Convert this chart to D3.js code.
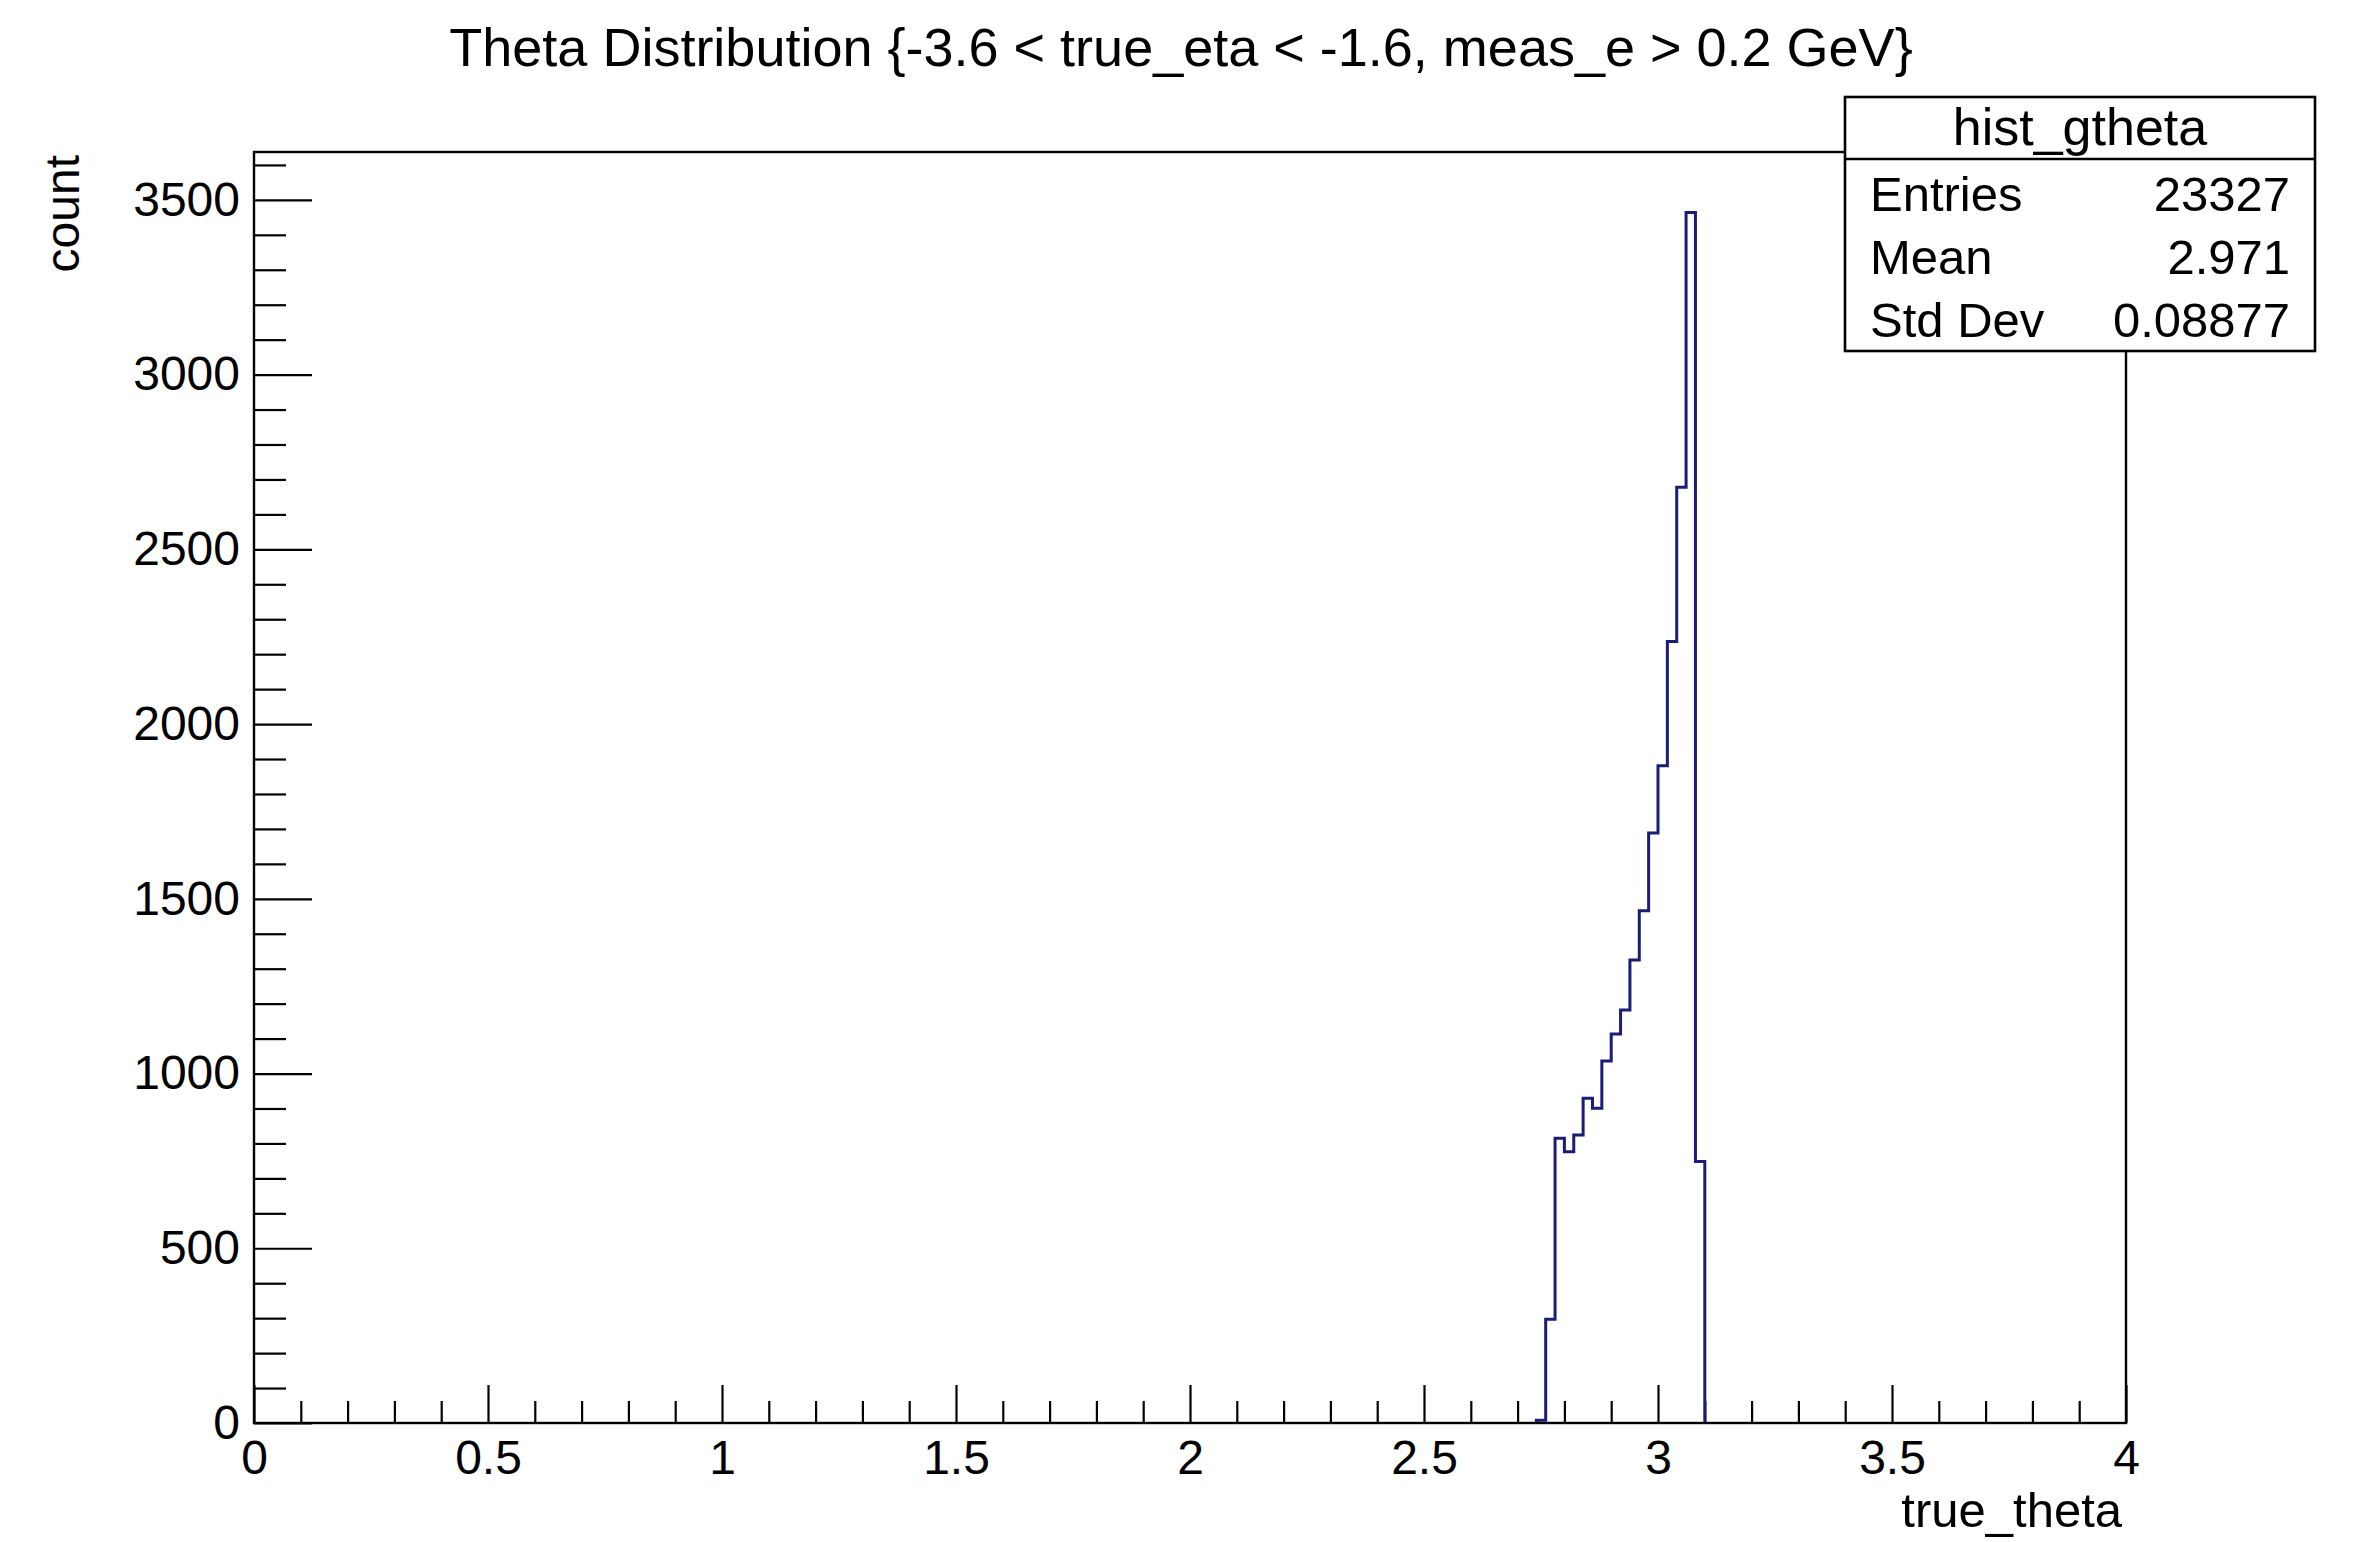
<!DOCTYPE html>
<html>
<head>
<meta charset="utf-8">
<script src="https://cdn.jsdelivr.net/npm/d3@7"></script>
<style>
    body { margin: 0; background: #fff; }
    svg { display: block; font-family: "Liberation Sans", Arial, sans-serif; }
    .tick text { font-size: 48px; fill: #000; }
    .tick line { stroke: #000; stroke-width: 2.2; }
</style>
</head>
<body>
<svg id="gfx" width="2361" height="1542"></svg>
<script>
// histogram bins (lower edge, width 0.02) and counts
var binLow = [2.74, 2.76, 2.78, 2.80, 2.82, 2.84, 2.86, 2.88, 2.90, 2.92,
              2.94, 2.96, 2.98, 3.00, 3.02, 3.04, 3.06, 3.08];
var counts = [8, 297, 815, 776, 824, 929, 901, 1036, 1113, 1182,
              1325, 1466, 1688, 1881, 2236, 2678, 3464, 748];
var binWidth = 0.02;

var xMajor = [0, 0.5, 1, 1.5, 2, 2.5, 3, 3.5, 4];
var yMajor = [0, 500, 1000, 1500, 2000, 2500, 3000, 3500];

var statNames = ["Entries", "Mean", "Std Dev"];
var statValues = ["23327", "2.971", "0.08877"];

var state = {};

function initialise() {
    state = {
        frame: { left: 254, right: 2126, top: 152, bottom: 1423 },
        yMax: 3637
    };
    state.svg = d3.select("#gfx");
    state.x = d3.scaleLinear().domain([0, 4]).range([state.frame.left, state.frame.right]);
    state.y = d3.scaleLinear().domain([0, state.yMax]).range([state.frame.bottom, state.frame.top]);

    drawAxes();
    drawHist();
    drawFrame();
    drawText();
    drawStats();
}

function drawAxes() {
    var svg = state.svg, x = state.x, y = state.y, f = state.frame;

    var xMinor = d3.range(0, 41).map(i => i / 10).filter(v => xMajor.indexOf(v) < 0);
    var yMinor = d3.range(0, 37).map(i => i * 100).filter(v => yMajor.indexOf(v) < 0);

    svg.append("g").attr("transform", "translate(0," + f.bottom + ")")
        .call(d3.axisBottom(x).tickValues(xMinor).tickSize(-22).tickFormat(""))
        .call(g => g.select(".domain").remove());
    svg.append("g").attr("transform", "translate(0," + f.bottom + ")")
        .call(d3.axisBottom(x).tickValues(xMajor).tickSize(-38).tickPadding(17).tickFormat(d => String(d)))
        .call(g => g.select(".domain").remove());

    svg.append("g").attr("transform", "translate(" + f.left + ",0)")
        .call(d3.axisLeft(y).tickValues(yMinor).tickSize(-32).tickFormat(""))
        .call(g => g.select(".domain").remove());
    svg.append("g").attr("transform", "translate(" + f.left + ",0)")
        .call(d3.axisLeft(y).tickValues(yMajor).tickSize(-58).tickPadding(14).tickFormat(d3.format("d")))
        .call(g => g.select(".domain").remove());

    svg.selectAll(".tick text").attr("font-family", null).attr("font-size", null);
}

function drawHist() {
    var x = state.x, y = state.y;
    var pts = [[x(binLow[0]), y(0)]];
    binLow.forEach(function(lo, i) {
        pts.push([x(lo), y(counts[i])]);
        pts.push([x(lo + binWidth), y(counts[i])]);
    });
    pts.push([x(binLow[binLow.length - 1] + binWidth), y(0)]);

    state.svg.append("path")
        .attr("d", d3.line()(pts))
        .attr("fill", "none")
        .attr("stroke", "#1b1b78")
        .attr("stroke-width", 3);
}

function drawFrame() {
    var f = state.frame;
    state.svg.append("rect")
        .attr("x", f.left).attr("y", f.top)
        .attr("width", f.right - f.left).attr("height", f.bottom - f.top)
        .attr("fill", "none").attr("stroke", "#000").attr("stroke-width", 2.4);
}

function drawText() {
    var svg = state.svg, f = state.frame;
    svg.append("text")
        .attr("x", 1181).attr("y", 66)
        .attr("text-anchor", "middle")
        .attr("font-size", 54)
        .text("Theta Distribution {-3.6 < true_eta < -1.6, meas_e > 0.2 GeV}");

    svg.append("text")
        .attr("x", 2122).attr("y", 1527)
        .attr("text-anchor", "end")
        .attr("font-size", 49)
        .text("true_theta");

    svg.append("text")
        .attr("transform", "translate(79,155) rotate(-90)")
        .attr("text-anchor", "end")
        .attr("font-size", 48)
        .text("count");
}

function drawStats() {
    var svg = state.svg;
    var box = { x0: 1845, x1: 2315, y0: 97, y1: 351, sep: 159 };
    var g = svg.append("g").attr("class", "stats");

    g.append("rect")
        .attr("x", box.x0).attr("y", box.y0)
        .attr("width", box.x1 - box.x0).attr("height", box.y1 - box.y0)
        .attr("fill", "#fff").attr("stroke", "#000").attr("stroke-width", 2.6);
    g.append("line")
        .attr("x1", box.x0).attr("x2", box.x1)
        .attr("y1", box.sep).attr("y2", box.sep)
        .attr("stroke", "#000").attr("stroke-width", 2.6);

    g.append("text")
        .attr("x", (box.x0 + box.x1) / 2).attr("y", 145)
        .attr("text-anchor", "middle")
        .attr("font-size", 52)
        .text("hist_gtheta");

    var rowY = d3.scaleLinear().domain([0, 2]).range([211, 337]);

    g.selectAll("text.name")
        .data(statNames)
        .enter().append("text").attr("class", "name")
        .attr("x", 1870).attr("y", (d, i) => rowY(i))
        .attr("font-size", 49)
        .text(d => d);

    g.selectAll("text.value")
        .data(statValues)
        .enter().append("text").attr("class", "value")
        .attr("x", 2290).attr("y", (d, i) => rowY(i))
        .attr("text-anchor", "end")
        .attr("font-size", 49)
        .text(d => d);
}

initialise();
</script>
</body>
</html>
